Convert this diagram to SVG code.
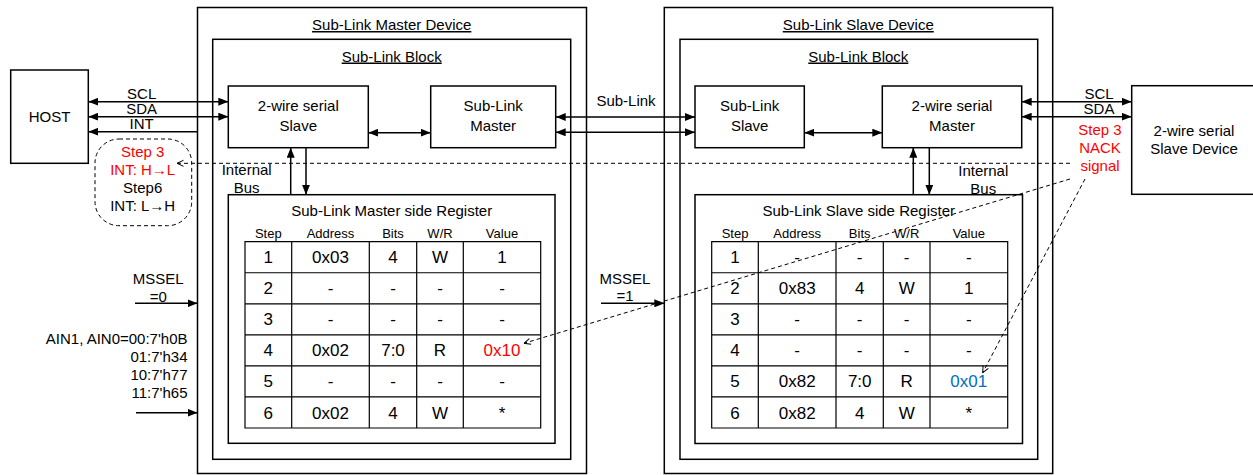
<svg xmlns="http://www.w3.org/2000/svg" width="1253" height="475" viewBox="0 0 1253 475">
  <style>
    text { font-family: "Liberation Sans", Arial, sans-serif; fill: #000; }
    .t15 { font-size: 15px; }
    .t13 { font-size: 13px; }
    .t17 { font-size: 17px; }
    .mid { text-anchor: middle; }
    .end { text-anchor: end; }
    .ul { text-decoration: underline; }
    .red { fill: #ff0000; }
    .blue { fill: #0070c0; }
    .box { fill: #fff; stroke: #000; stroke-width: 1.5; }
    .grid { fill: none; stroke: #000; stroke-width: 1.2; }
    .wire { fill: none; stroke: #000; stroke-width: 1.5; }
    .dash { fill: none; stroke: #000; stroke-width: 1; stroke-dasharray: 4 3; }
  </style>
  <defs>
    <marker id="ah" viewBox="0 0 10 8" refX="10" refY="4" markerWidth="10" markerHeight="8" markerUnits="userSpaceOnUse" orient="auto-start-reverse">
      <path d="M0,0 L10,4 L0,8 z" fill="#000"/>
    </marker>
    <marker id="oa" viewBox="0 0 8 8" refX="7.5" refY="4" markerWidth="8" markerHeight="8" markerUnits="userSpaceOnUse" orient="auto-start-reverse">
      <path d="M1,1 L7.5,4 L1,7" fill="none" stroke="#000" stroke-width="1"/>
    </marker>
  </defs>

  <!-- Host controller -->
  <g id="host">
    <rect class="box" x="10.7" y="70" width="77.6" height="93.3"/>
    <text class="t15 mid" x="49.5" y="122">HOST</text>
  </g>

  <!-- Sub-Link master device -->
  <g id="master-device">
    <rect class="box" x="197.5" y="7.5" width="389" height="466"/>
    <text class="t15 mid ul" x="391.7" y="30">Sub-Link Master Device</text>
  </g>
  <g id="master-block">
    <rect class="box" x="212.7" y="39.3" width="358" height="420"/>
    <text class="t15 mid ul" x="391.7" y="61.5">Sub-Link Block</text>
  </g>
  <g id="tw-slave">
    <rect class="box" x="228.3" y="86" width="140" height="61.7"/>
    <text class="t15 mid" x="298.3" y="111">2-wire serial</text>
    <text class="t15 mid" x="298.3" y="130.5">Slave</text>
  </g>
  <g id="sl-master">
    <rect class="box" x="430.7" y="86" width="125" height="61.7"/>
    <text class="t15 mid" x="493.2" y="111">Sub-Link</text>
    <text class="t15 mid" x="493.2" y="130.5">Master</text>
  </g>
  <g id="master-reg">
    <rect class="box" x="228.3" y="194.7" width="326.7" height="248.6"/>
    <text class="t15 mid" x="391.7" y="216">Sub-Link Master side Register</text>
    <g class="t13 mid">
      <text x="268.3" y="237.7">Step</text>
      <text x="330.5" y="237.7">Address</text>
      <text x="393" y="237.7">Bits</text>
      <text x="440" y="237.7">W/R</text>
      <text x="502" y="237.7">Value</text>
    </g>
    <path class="grid" d="M245,241.7 H540.7 V428 H245 Z M245,272.75 H540.7 M245,303.8 H540.7 M245,334.85 H540.7 M245,365.9 H540.7 M245,396.95 H540.7 M291.7,241.7 V428 M369.3,241.7 V428 M416.7,241.7 V428 M463.3,241.7 V428"/>
    <g class="t17 mid">
      <text x="268.3" y="263.2">1</text><text x="330.5" y="263.2">0x03</text><text x="393" y="263.2">4</text><text x="440" y="263.2">W</text><text x="502" y="263.2">1</text>
      <text x="268.3" y="294.3">2</text><text x="330.5" y="294.3">-</text><text x="393" y="294.3">-</text><text x="440" y="294.3">-</text><text x="502" y="294.3">-</text>
      <text x="268.3" y="325.3">3</text><text x="330.5" y="325.3">-</text><text x="393" y="325.3">-</text><text x="440" y="325.3">-</text><text x="502" y="325.3">-</text>
      <text x="268.3" y="356.4">4</text><text x="330.5" y="356.4">0x02</text><text x="393" y="356.4">7:0</text><text x="440" y="356.4">R</text><text class="red" x="502" y="356.4">0x10</text>
      <text x="268.3" y="387.4">5</text><text x="330.5" y="387.4">-</text><text x="393" y="387.4">-</text><text x="440" y="387.4">-</text><text x="502" y="387.4">-</text>
      <text x="268.3" y="418.5">6</text><text x="330.5" y="418.5">0x02</text><text x="393" y="418.5">4</text><text x="440" y="418.5">W</text><text x="502" y="418.5">*</text>
    </g>
  </g>

  <!-- Sub-Link slave device -->
  <g id="slave-device">
    <rect class="box" x="664.3" y="7.5" width="388.4" height="466"/>
    <text class="t15 mid ul" x="858.3" y="30">Sub-Link Slave Device</text>
  </g>
  <g id="slave-block">
    <rect class="box" x="680" y="39.3" width="357.7" height="420"/>
    <text class="t15 mid ul" x="858.3" y="61.5">Sub-Link Block</text>
  </g>
  <g id="sl-slave">
    <rect class="box" x="695" y="86" width="109.3" height="61.7"/>
    <text class="t15 mid" x="749.7" y="111">Sub-Link</text>
    <text class="t15 mid" x="749.7" y="130.5">Slave</text>
  </g>
  <g id="tw-master">
    <rect class="box" x="882.3" y="86" width="139.4" height="61.7"/>
    <text class="t15 mid" x="952" y="111">2-wire serial</text>
    <text class="t15 mid" x="952" y="130.5">Master</text>
  </g>
  <g id="slave-reg">
    <rect class="box" x="695" y="194.7" width="327.5" height="248.8"/>
    <text class="t15 mid" x="858.7" y="216">Sub-Link Slave side Register</text>
    <g class="t13 mid">
      <text x="735" y="237.7">Step</text>
      <text x="797.2" y="237.7">Address</text>
      <text x="859.7" y="237.7">Bits</text>
      <text x="906.7" y="237.7">W/R</text>
      <text x="968.8" y="237.7">Value</text>
    </g>
    <path class="grid" d="M711.7,241.7 H1007.7 V428 H711.7 Z M711.7,272.75 H1007.7 M711.7,303.8 H1007.7 M711.7,334.85 H1007.7 M711.7,365.9 H1007.7 M711.7,396.95 H1007.7 M758.3,241.7 V428 M836,241.7 V428 M883.3,241.7 V428 M930,241.7 V428"/>
    <g class="t17 mid">
      <text x="735" y="263.2">1</text><text x="797.2" y="263.2">-</text><text x="859.7" y="263.2">-</text><text x="906.7" y="263.2">-</text><text x="968.8" y="263.2">-</text>
      <text x="735" y="294.3">2</text><text x="797.2" y="294.3">0x83</text><text x="859.7" y="294.3">4</text><text x="906.7" y="294.3">W</text><text x="968.8" y="294.3">1</text>
      <text x="735" y="325.3">3</text><text x="797.2" y="325.3">-</text><text x="859.7" y="325.3">-</text><text x="906.7" y="325.3">-</text><text x="968.8" y="325.3">-</text>
      <text x="735" y="356.4">4</text><text x="797.2" y="356.4">-</text><text x="859.7" y="356.4">-</text><text x="906.7" y="356.4">-</text><text x="968.8" y="356.4">-</text>
      <text x="735" y="387.4">5</text><text x="797.2" y="387.4">0x82</text><text x="859.7" y="387.4">7:0</text><text x="906.7" y="387.4">R</text><text class="blue" x="968.8" y="387.4">0x01</text>
      <text x="735" y="418.5">6</text><text x="797.2" y="418.5">0x82</text><text x="859.7" y="418.5">4</text><text x="906.7" y="418.5">W</text><text x="968.8" y="418.5">*</text>
    </g>
  </g>

  <!-- External I2C slave device -->
  <g id="ext-slave">
    <rect class="box" x="1131.7" y="85.7" width="130" height="108.6"/>
    <text class="t15 mid" x="1194" y="136">2-wire serial</text>
    <text class="t15 mid" x="1194" y="154">Slave Device</text>
  </g>

  <!-- Interrupt note -->
  <g id="int-note">
    <rect class="dash" x="95" y="139" width="96.7" height="86.7" rx="24" ry="24"/>
    <text class="t15 mid red" x="142.7" y="156.7">Step 3</text>
    <text class="t15 mid red" x="142.7" y="175">INT: H→L</text>
    <text class="t15 mid" x="142.7" y="193.4">Step6</text>
    <text class="t15 mid" x="142.7" y="211.4">INT: L→H</text>
  </g>

  <!-- NACK note -->
  <g id="nack-note">
    <text class="t15 mid red" x="1100" y="134.5">Step 3</text>
    <text class="t15 mid red" x="1100" y="153.3">NACK</text>
    <text class="t15 mid red" x="1100" y="171.3">signal</text>
  </g>

  <!-- Pin-strap inputs -->
  <g id="strap-master">
    <text class="t15 mid" x="158.3" y="284.3">MSSEL</text>
    <text class="t15 mid" x="158.3" y="301.5">=0</text>
    <text class="t15 end" x="187.5" y="344">AIN1, AIN0=00:7'h0B</text>
    <text class="t15 end" x="187.5" y="362">01:7'h34</text>
    <text class="t15 end" x="187.5" y="380">10:7'h77</text>
    <text class="t15 end" x="187.5" y="398">11:7'h65</text>
  </g>
  <g id="strap-slave">
    <text class="t15 mid" x="625" y="283.5">MSSEL</text>
    <text class="t15 mid" x="625" y="301">=1</text>
  </g>

  <!-- Connectors -->
  <g id="connectors">
    <g class="wire">
      <!-- host bus -->
      <line x1="88.3" y1="101.7" x2="228.3" y2="101.7" marker-start="url(#ah)" marker-end="url(#ah)"/>
      <line x1="88.3" y1="116.7" x2="228.3" y2="116.7" marker-start="url(#ah)" marker-end="url(#ah)"/>
      <line x1="197.5" y1="131.7" x2="88.3" y2="131.7" marker-end="url(#ah)"/>
      <!-- master internals -->
      <line x1="368.3" y1="132.7" x2="430.7" y2="132.7" marker-start="url(#ah)" marker-end="url(#ah)"/>
      <line x1="290.7" y1="194.7" x2="290.7" y2="147.7" marker-end="url(#ah)"/>
      <line x1="306" y1="147.7" x2="306" y2="194.7" marker-end="url(#ah)"/>
      <!-- sub-link -->
      <line x1="555.7" y1="117" x2="695" y2="117" marker-start="url(#ah)" marker-end="url(#ah)"/>
      <line x1="555.7" y1="132.3" x2="695" y2="132.3" marker-start="url(#ah)" marker-end="url(#ah)"/>
      <!-- slave internals -->
      <line x1="804.3" y1="132.7" x2="882.3" y2="132.7" marker-start="url(#ah)" marker-end="url(#ah)"/>
      <line x1="913.3" y1="194.7" x2="913.3" y2="147.7" marker-end="url(#ah)"/>
      <line x1="929.3" y1="147.7" x2="929.3" y2="194.7" marker-end="url(#ah)"/>
      <!-- downstream bus -->
      <line x1="1021.7" y1="101.7" x2="1131.7" y2="101.7" marker-start="url(#ah)" marker-end="url(#ah)"/>
      <line x1="1021.7" y1="116.7" x2="1131.7" y2="116.7" marker-start="url(#ah)" marker-end="url(#ah)"/>
      <!-- straps -->
      <line x1="135" y1="303.3" x2="197.5" y2="303.3" marker-end="url(#ah)"/>
      <line x1="136" y1="412.7" x2="197.5" y2="412.7" marker-end="url(#ah)"/>
      <line x1="601" y1="303.3" x2="664.3" y2="303.3" marker-end="url(#ah)"/>
    </g>
    <g class="t15">
      <text class="mid" x="141.7" y="98.5">SCL</text>
      <text class="mid" x="141.7" y="113.7">SDA</text>
      <text class="mid" x="141.7" y="128.7">INT</text>
      <text class="mid" x="246.7" y="175">Internal</text>
      <text class="mid" x="246.7" y="193">Bus</text>
      <text class="mid" x="626" y="105.5">Sub-Link</text>
      <text class="mid" x="983.3" y="175.5">Internal</text>
      <text class="mid" x="983.3" y="193.5">Bus</text>
      <text class="mid" x="1099" y="98.5">SCL</text>
      <text class="mid" x="1099" y="113.7">SDA</text>
    </g>
    <!-- event paths -->
    <line class="dash" x1="1070" y1="163.3" x2="177" y2="163.3" marker-end="url(#oa)"/>
    <line class="dash" x1="1070" y1="179" x2="524" y2="343.3" marker-end="url(#oa)"/>
    <line class="dash" x1="1085" y1="179" x2="982.7" y2="372.7" marker-end="url(#oa)"/>
  </g>
</svg>
